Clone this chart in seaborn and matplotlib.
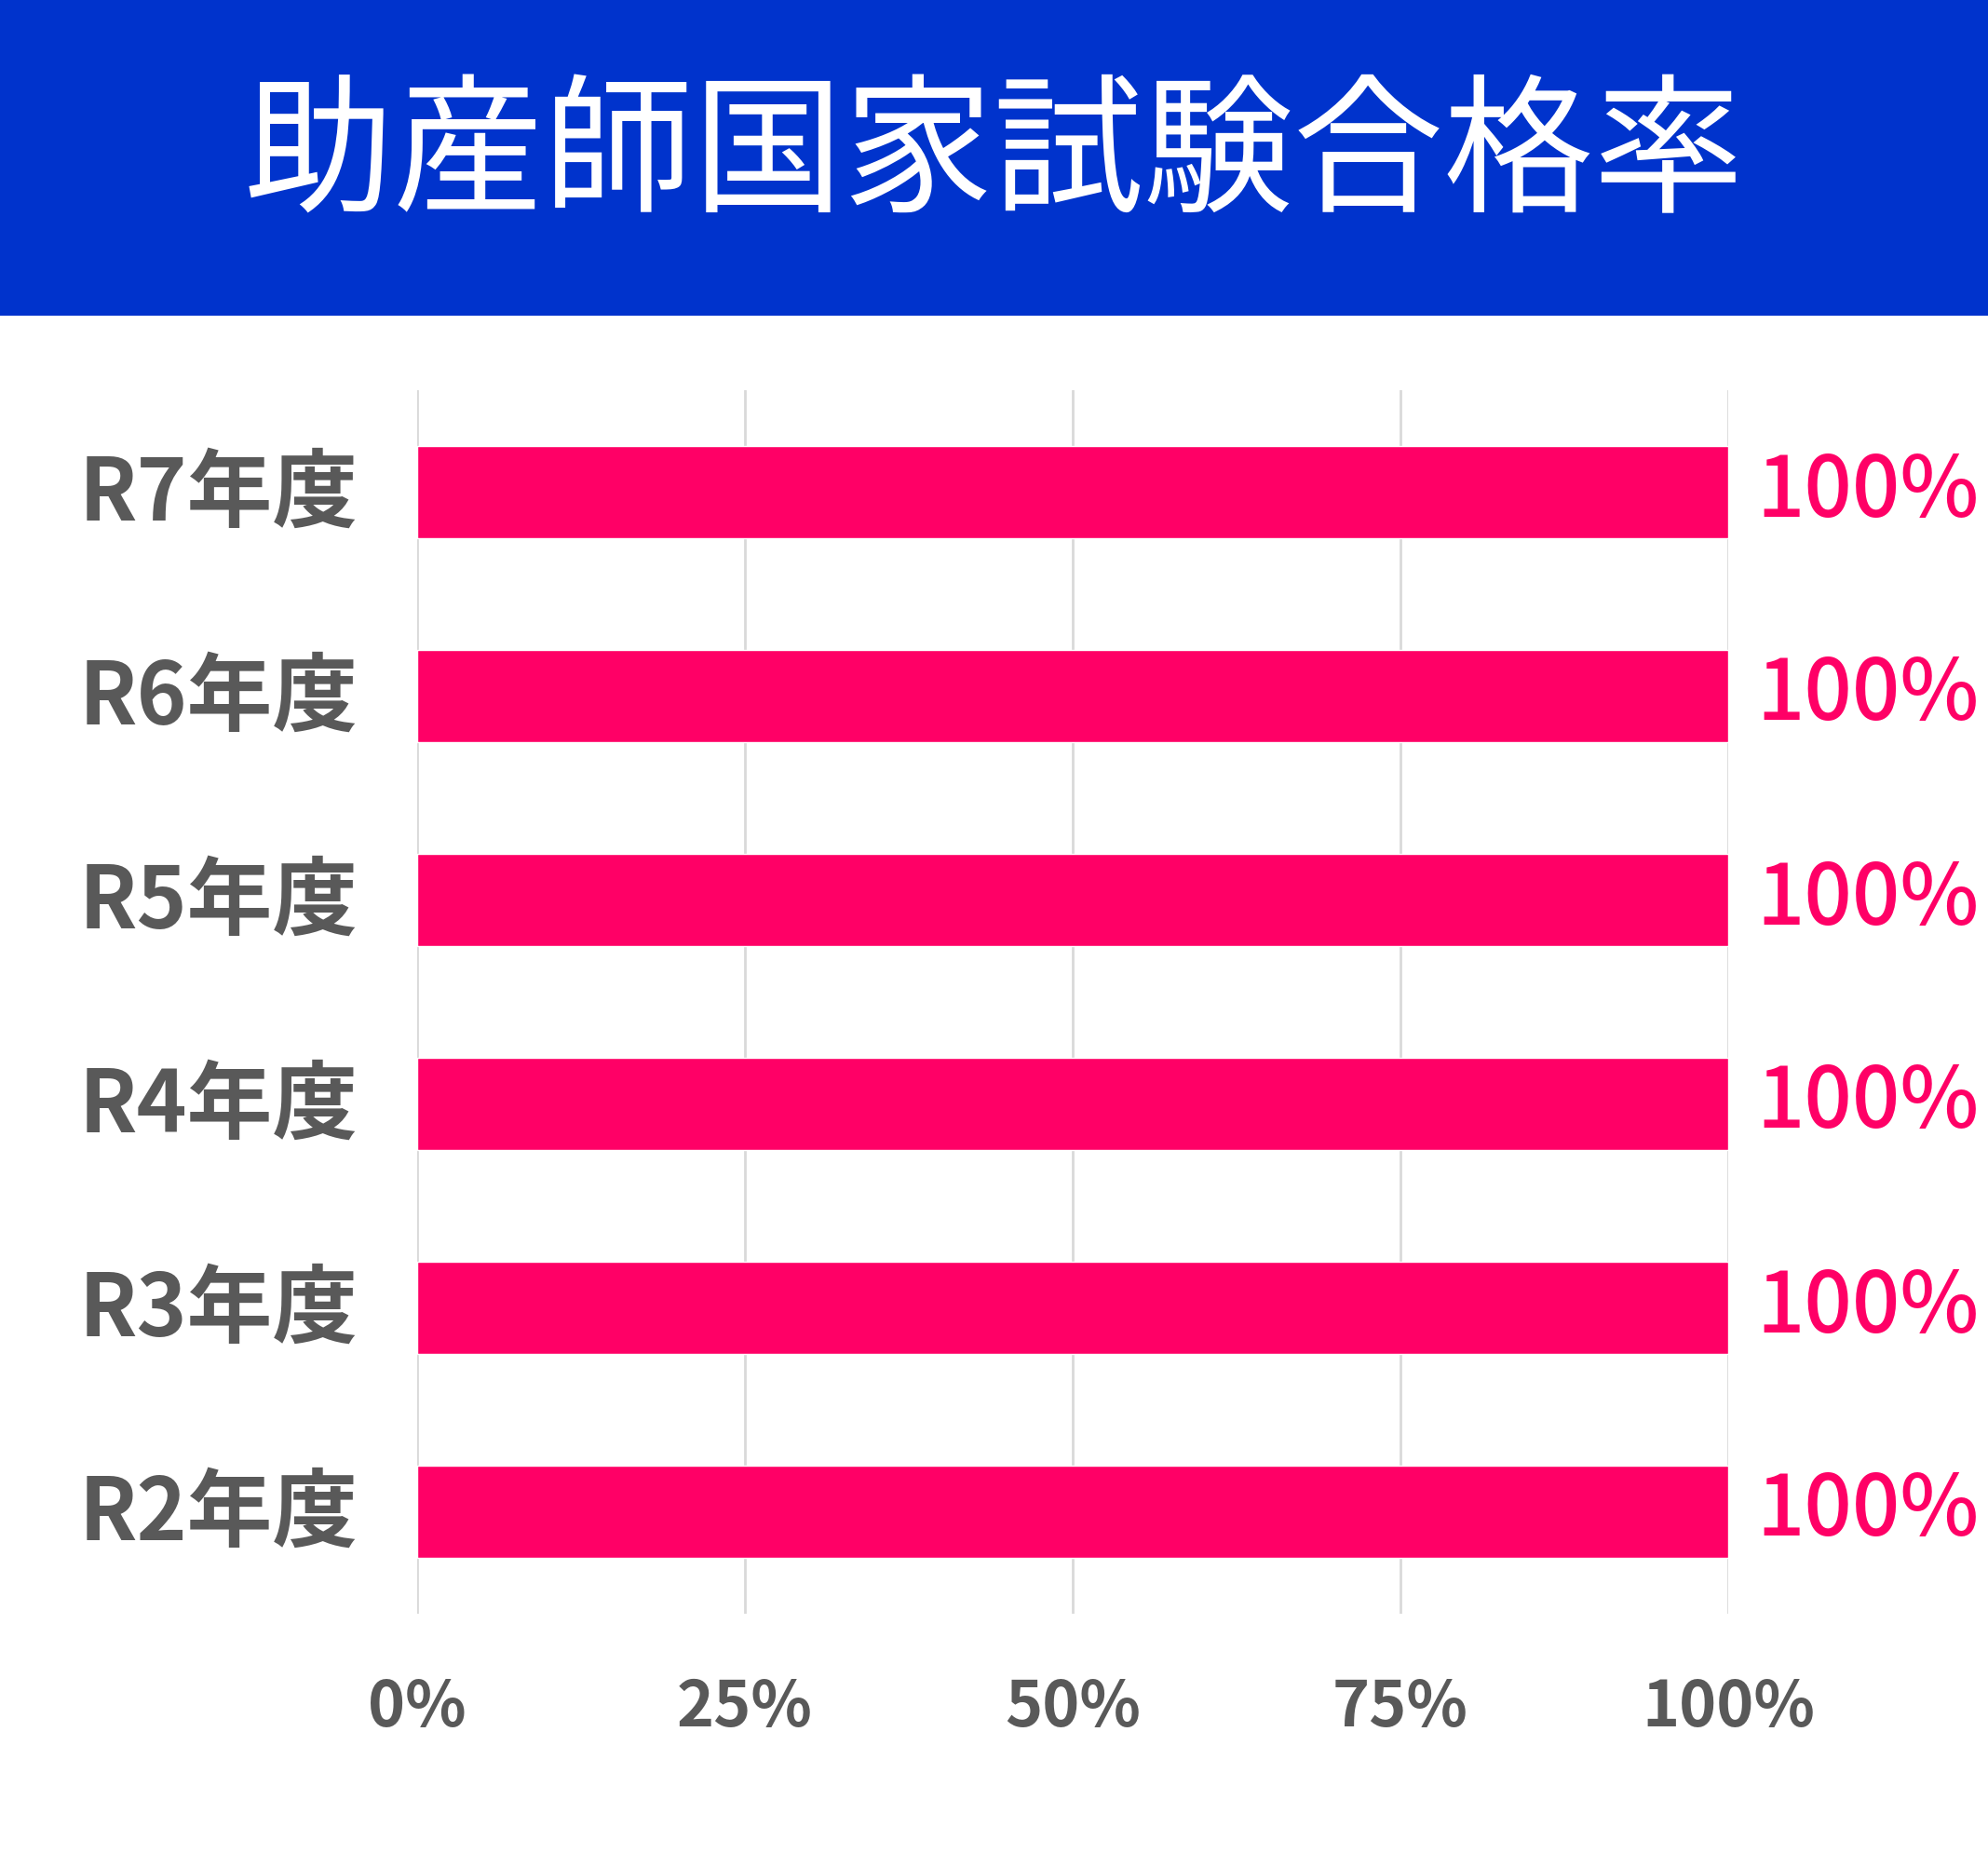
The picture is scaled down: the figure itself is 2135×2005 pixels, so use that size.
import matplotlib
matplotlib.use("Agg")
import matplotlib.pyplot as plt
import matplotlib.transforms as mtransforms
import seaborn as sns
import pandas as pd
from matplotlib.patches import Rectangle
from matplotlib.ticker import FuncFormatter

title = "助産師国家試験合格率"
categories = ["R7年度", "R6年度", "R5年度", "R4年度", "R3年度", "R2年度"]
values = [100, 100, 100, 100, 100, 100]
xticks = [0, 25, 50, 75, 100]

sns.set_theme(style="white")
plt.rcParams['font.family'] = ['Noto Sans CJK JP', 'DejaVu Sans']

df = pd.DataFrame({"year": categories, "rate": values})

fig = plt.figure(figsize=(21.35, 20.05), dpi=100)
fig.patch.set_facecolor("white")
fig.patches.append(Rectangle((0, 1 - 339 / 2005), 1, 339 / 2005,
                             transform=fig.transFigure, facecolor="#0033CC",
                             edgecolor="none", zorder=0))
fig.text(0.5, 1 - 170 / 2005, title, ha="center", va="center",
         color="white", fontsize=116, fontweight="normal")

ax = fig.add_axes([448 / 2135, 1 - 1733 / 2005, (1856 - 448) / 2135, (1733 - 419) / 2005])
sns.barplot(data=df, y="year", x="rate", orient="h", color="#FF0066",
            width=0.455, saturation=1, ax=ax, zorder=3)
ax.set_xlim(0, 100)
ax.set_ylim(5.5, -0.5)
ax.set_xticks(xticks)
ax.xaxis.set_major_formatter(FuncFormatter(lambda v, p: f"{int(v)}%"))
ax.grid(axis="x", color="#D9D9D9", linewidth=2, zorder=0)
ax.grid(axis="y", visible=False)
for s in ax.spines.values():
    s.set_visible(False)
ax.set_xlabel("")
ax.set_ylabel("")
ax.tick_params(axis="x", length=0, pad=48, labelsize=49, labelcolor="#595959")
ax.tick_params(axis="y", length=0, pad=46, labelsize=66, labelcolor="#595959")
for lbl in ax.get_xticklabels():
    lbl.set_fontweight("bold")
shift = mtransforms.ScaledTranslation(0, 5 / 72, fig.dpi_scale_trans)
for lbl in ax.get_yticklabels():
    lbl.set_fontweight("bold")
    lbl.set_transform(lbl.get_transform() + shift)

for c in ax.containers:
    ax.bar_label(c, labels=[f"{int(v)}%" for v in values], padding=22,
                 fontsize=65, fontweight="medium", color="#FF0066", clip_on=False)

fig.savefig("out.png", dpi=100, facecolor="white")
